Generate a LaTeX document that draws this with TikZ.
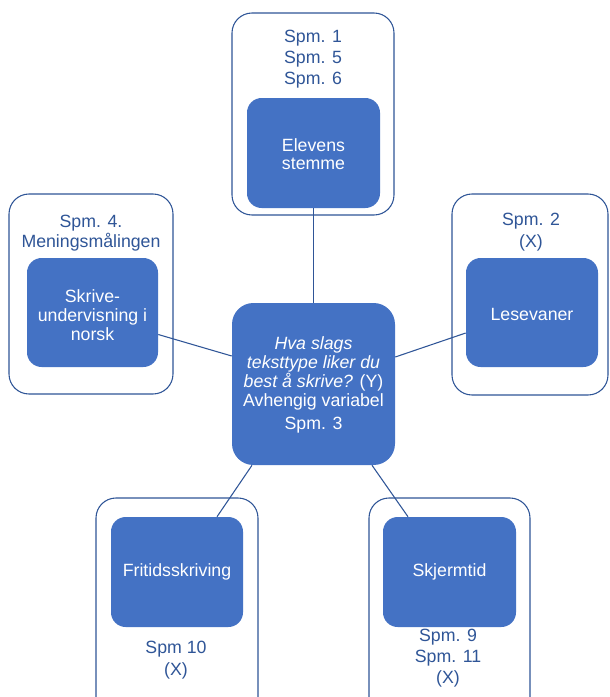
\documentclass[tikz,border=0pt]{standalone}
\usepackage{fontspec}
\setmainfont{Liberation Sans}
\usetikzlibrary{calc}
\definecolor{fillblue}{HTML}{4472C4}
\definecolor{lineblue}{HTML}{2F5597}
\begin{document}
\begin{tikzpicture}[x=0.75pt,y=-0.75pt,
  outerbox/.style={draw=lineblue,line width=0.8pt,rounded corners=15pt,fill=white,inner sep=0pt},
  innerbox/.style={fill=fillblue,rounded corners=11pt,inner sep=0pt},
  centerbox/.style={fill=fillblue,rounded corners=16pt,inner sep=0pt},
  outertext/.style={text=lineblue,align=center,font=\fontsize{13.3pt}{15.75pt}\selectfont},
  innertext/.style={text=white,align=center,font=\fontsize{13.3pt}{14pt}\selectfont},
  conn/.style={draw=lineblue,line width=0.8pt}]
\useasboundingbox (0,0) rectangle (610,697);
% outer boxes
\node[outerbox,minimum width=162*0.75pt,minimum height=202*0.75pt] (topout) at (313,114) {};
\node[outerbox,minimum width=164*0.75pt,minimum height=200*0.75pt] (leftout) at (91,294) {};
\node[outerbox,minimum width=156*0.75pt,minimum height=201*0.75pt] (rightout) at (530,294.5) {};
\node[outerbox,minimum width=162*0.75pt,minimum height=230*0.75pt] (blout) at (177,613) {};
\node[outerbox,minimum width=161*0.75pt,minimum height=230*0.75pt] (brout) at (449.5,613) {};
% inner boxes
\node[innerbox,minimum width=133*0.75pt,minimum height=110*0.75pt] (topin) at (313.5,153) {};
\node[innerbox,minimum width=131*0.75pt,minimum height=109*0.75pt] (leftin) at (92.5,312.5) {};
\node[innerbox,minimum width=132*0.75pt,minimum height=109*0.75pt] (rightin) at (532,312.5) {};
\node[innerbox,minimum width=132*0.75pt,minimum height=110*0.75pt] (blin) at (177,572) {};
\node[innerbox,minimum width=133*0.75pt,minimum height=110*0.75pt] (brin) at (449.5,572) {};
% center
\node[centerbox,minimum width=163*0.75pt,minimum height=162*0.75pt] (center) at (313.5,384) {};
% connectors
\draw[conn] (topin.south) -- (center.north);
\draw[conn] ($(leftin.east)+(0,22)$) -- ($(center.west)+(0,-28)$);
\draw[conn] ($(center.east)+(0,-27)$) -- ($(rightin.west)+(0,20.5)$);
\draw[conn] ($(center.south)+(-61.5,0)$) -- ($(blin.north)+(40,0)$);
\draw[conn] ($(center.south)+(58.5,0)$) -- ($(brin.north)+(-41.5,0)$);
% outer texts
\node[outertext] (toptxt) at (313,59) {Spm. 1\\Spm. 5\\Spm. 6};
\node[outertext,font=\fontsize{13.3pt}{15pt}\selectfont] (lefttxt) at (91,233) {Spm. 4.\\Meningsmålingen};
\node[outertext,font=\fontsize{13.3pt}{16.5pt}\selectfont] (righttxt) at (531,232) {Spm. 2\\(X)};
\node[outertext,font=\fontsize{13.3pt}{17pt}\selectfont] (bltxt) at (176,660) {Spm 10\\(X)};
\node[outertext,font=\fontsize{13.3pt}{16pt}\selectfont] (brtxt) at (448,658) {Spm. 9\\Spm. 11\\(X)};
% inner texts
\node[innertext] (toplbl) at (313.5,154) {Elevens\\stemme};
\node[innertext] (leftlbl) at (92.5,315) {Skrive-\\undervisning i\\norsk};
\node[innertext] (rightlbl) at (532,314) {Lesevaner};
\node[innertext] (bllbl) at (177,572) {Fritidsskriving};
\node[innertext] (brlbl) at (449.5,572) {Skjermtid};
\node[innertext,font=\fontsize{13.3pt}{14.25pt}\selectfont] (ctrlbl) at (313.5,385) {\itshape Hva slags\\\itshape teksttype liker du\\\itshape best å skrive? \upshape(Y)\\Avhengig variabel\\[3pt]Spm. 3};
\end{tikzpicture}
\end{document}
